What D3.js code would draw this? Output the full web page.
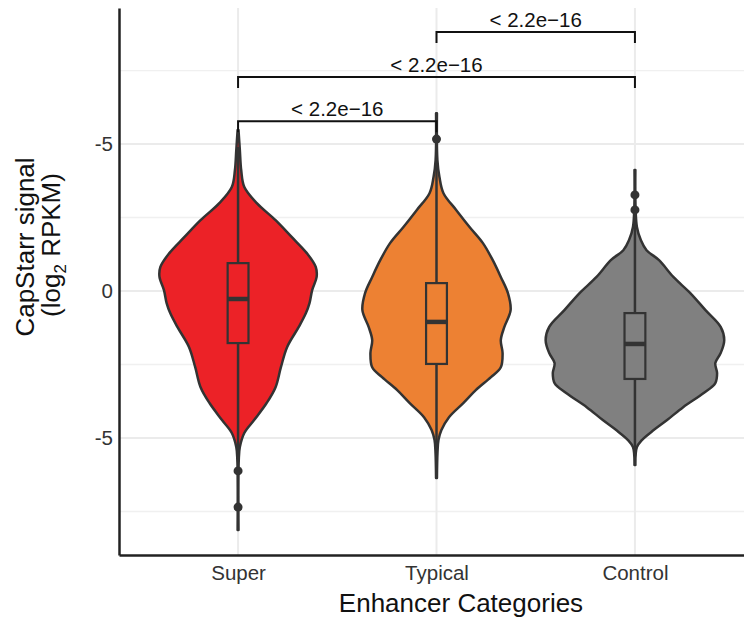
<!DOCTYPE html>
<html>
<head>
<script src="https://cdnjs.cloudflare.com/ajax/libs/d3/7.8.5/d3.min.js"></script>
<style>
    body { margin: 0; background: #fff; }
    text { font-family: "Liberation Sans", Arial, sans-serif; }
</style>
</head>
<body>
<div id="chart"></div>
<script>
const width = 744, height = 625;

const categories = ["Super", "Typical", "Control"];
const fills = ["#ec2227", "#ed8133", "#808080"];

// violin outlines: [log2 RPKM, relative density]
const superViolin = [
    [5.48, 0.005], [4.80, 0.02], [4.12, 0.035], [3.54, 0.07], [2.99, 0.21],
    [2.41, 0.42], [1.84, 0.60], [1.29, 0.77], [0.82, 0.87], [0.48, 0.88],
    [0.03, 0.83], [-0.41, 0.80], [-0.75, 0.76], [-1.22, 0.68], [-1.90, 0.55],
    [-2.59, 0.48], [-3.27, 0.42], [-3.81, 0.32], [-4.39, 0.18], [-4.83, 0.07],
    [-5.31, 0.02], [-5.75, 0.008], [-8.13, 0.005]
];
const typicalViolin = [
    [6.05, 0.005], [4.46, 0.01], [3.88, 0.033], [3.33, 0.078], [2.76, 0.22],
    [2.18, 0.37], [1.63, 0.52], [1.05, 0.63], [0.48, 0.72], [-0.07, 0.80],
    [-0.65, 0.83], [-1.22, 0.76], [-1.67, 0.72], [-2.11, 0.74], [-2.59, 0.72],
    [-2.93, 0.61], [-3.37, 0.44], [-3.81, 0.30], [-4.29, 0.14], [-4.73, 0.055],
    [-5.07, 0.022], [-5.51, 0.011], [-6.36, 0.005]
];
const controlViolin = [
    [4.12, 0.005], [2.18, 0.022], [1.73, 0.067], [1.39, 0.13], [1.05, 0.27],
    [0.48, 0.43], [-0.07, 0.62], [-0.65, 0.79], [-1.22, 0.96], [-1.67, 1.0],
    [-2.11, 0.96], [-2.45, 0.90], [-2.79, 0.92], [-3.13, 0.90], [-3.47, 0.77],
    [-3.95, 0.54], [-4.39, 0.36], [-4.73, 0.21], [-5.07, 0.078], [-5.31, 0.022],
    [-5.92, 0.005]
];
const violins = [superViolin, typicalViolin, controlViolin];

// box plot stats per category
const q1 = [-1.77, -2.48, -2.99];
const medians = [-0.27, -1.05, -1.80];
const q3 = [0.95, 0.27, -0.75];
const whiskerLow = [-5.8, -5.5, -5.6];
const whiskerHigh = [4.9, 4.5, 2.6];
const outliers = [[-6.12, -7.35], [5.17], [2.76, 3.27]];

// significance brackets
const comparisons = [["Super", "Typical"], ["Super", "Control"], ["Typical", "Control"]];
const bracketLevels = [5.78, 7.28, 8.81];
const pLabels = ["< 2.2e\u221216", "< 2.2e\u221216", "< 2.2e\u221216"];

// axis ticks
const yTicks = [5, 0, -5];
const yTickLabels = ["-5", "0", "-5"];
const yMinor = [7.5, 2.5, -2.5, -7.5];

const svg = d3.select("#chart").append("svg")
    .attr("width", width).attr("height", height)
    .style("background", "#fff");

const x = d3.scalePoint().domain(categories).range([119, 754]).padding(0.6);
const y = d3.scaleLinear().domain([-8.98, 9.63]).range([555, 8]);
const w = d3.scaleLinear().domain([0, 1]).range([0, 0.45 * x.step()]);

// grid
const grid = svg.append("g");
grid.selectAll(".minor").data(yMinor).enter().append("line")
    .attr("x1", 119).attr("x2", width)
    .attr("y1", d => y(d)).attr("y2", d => y(d))
    .attr("stroke", "#f0f0f0").attr("stroke-width", 1.4);
grid.selectAll(".major").data(yTicks).enter().append("line")
    .attr("x1", 119).attr("x2", width)
    .attr("y1", d => y(d)).attr("y2", d => y(d))
    .attr("stroke", "#ebebeb").attr("stroke-width", 2);
grid.selectAll(".vmajor").data(categories).enter().append("line")
    .attr("x1", d => x(d)).attr("x2", d => x(d))
    .attr("y1", y.range()[1]).attr("y2", y.range()[0])
    .attr("stroke", "#ebebeb").attr("stroke-width", 2);

// violins
categories.forEach((c, i) => {
    const cx = x(c);
    const area = d3.area()
        .curve(d3.curveCatmullRom)
        .y(d => y(d[0]))
        .x0(d => cx - w(d[1]))
        .x1(d => cx + w(d[1]));
    svg.append("path")
        .datum(violins[i])
        .attr("d", area)
        .attr("fill", fills[i])
        .attr("stroke", "#333")
        .attr("stroke-width", 2.5)
        .attr("stroke-linejoin", "round");
});

// boxes
const boxW = x.step() * 0.105;
categories.forEach((c, i) => {
    const cx = x(c);
    const g = svg.append("g").attr("stroke", "#333");
    g.append("line").attr("x1", cx).attr("x2", cx)
        .attr("y1", y(q3[i])).attr("y2", y(whiskerHigh[i])).attr("stroke-width", 2.5);
    g.append("line").attr("x1", cx).attr("x2", cx)
        .attr("y1", y(q1[i])).attr("y2", y(whiskerLow[i])).attr("stroke-width", 2.5);
    g.append("rect")
        .attr("x", cx - boxW / 2).attr("width", boxW)
        .attr("y", y(q3[i])).attr("height", y(q1[i]) - y(q3[i]))
        .attr("fill", fills[i]).attr("stroke-width", 2.2);
    g.append("line").attr("x1", cx - boxW / 2).attr("x2", cx + boxW / 2)
        .attr("y1", y(medians[i])).attr("y2", y(medians[i])).attr("stroke-width", 4.5);
    g.selectAll("circle").data(outliers[i]).enter().append("circle")
        .attr("cx", cx).attr("cy", d => y(d)).attr("r", 4.5)
        .attr("fill", "#333").attr("stroke", "none");
});

// brackets
const tick = 11;
comparisons.forEach((pair, i) => {
    const x1 = x(pair[0]), x2 = x(pair[1]), by = y(bracketLevels[i]);
    svg.append("path")
        .attr("d", `M${x1},${by + tick}V${by}H${x2}V${by + tick}`)
        .attr("fill", "none").attr("stroke", "#111").attr("stroke-width", 2);
    svg.append("text")
        .attr("x", (x1 + x2) / 2).attr("y", by - 5)
        .attr("text-anchor", "middle")
        .attr("font-size", 20.5).attr("fill", "#111")
        .text(pLabels[i]);
});

// axes
const yAxis = svg.append("g").attr("transform", "translate(119,0)")
    .call(d3.axisLeft(y).tickValues(yTicks).tickFormat((d, i) => yTickLabels[i])
        .tickSize(0).tickPadding(6));
const xAxis = svg.append("g").attr("transform", "translate(0,555)")
    .call(d3.axisBottom(x).tickSize(0).tickPadding(10));
[yAxis, xAxis].forEach(a => {
    a.select(".domain").attr("stroke", "#222").attr("stroke-width", 2.5);
    a.selectAll("text").attr("font-size", 20.5).attr("fill", "#333")
        .attr("font-family", "Liberation Sans, Arial, sans-serif");
});

svg.append("text")
    .attr("x", 461).attr("y", 612)
    .attr("text-anchor", "middle").attr("font-size", 26).attr("fill", "#111")
    .text("Enhancer Categories");

const yt = svg.append("text")
    .attr("transform", "rotate(-90)")
    .attr("text-anchor", "middle").attr("font-size", 26).attr("fill", "#111");
yt.append("tspan").attr("x", -247).attr("y", 34).text("CapStarr signal");
const l2 = svg.append("text")
    .attr("transform", "rotate(-90)")
    .attr("text-anchor", "middle").attr("font-size", 26).attr("fill", "#111")
    .attr("x", -245).attr("y", 60);
l2.append("tspan").text("(log");
l2.append("tspan").attr("font-size", 17).attr("dy", 6).text("2");
l2.append("tspan").attr("dy", -6).text(" RPKM)");
</script>
</body>
</html>
